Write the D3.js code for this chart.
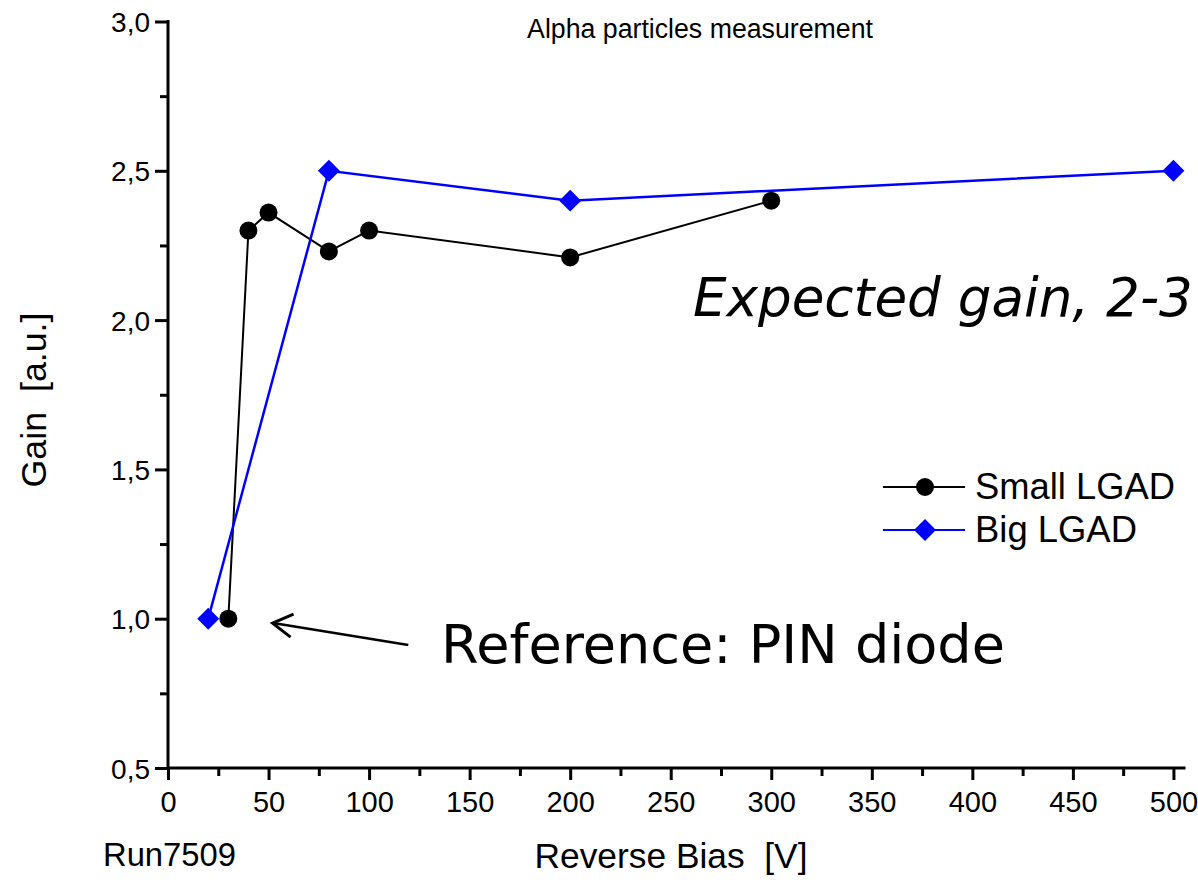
<!DOCTYPE html>
<html>
<head>
<meta charset="utf-8">
<script src="https://cdn.jsdelivr.net/npm/d3@7"></script>
<style>
	body { margin: 0; background: #fff; }
	text { font-family: "Liberation Sans", Arial, sans-serif; fill: #000; }
	.annot { font-family: "DejaVu Sans", Verdana, sans-serif; }
</style>
</head>
<body>
<script>
//data
var smallBias = [30, 40, 50, 80, 100, 200, 300],
	smallGain = [1.0, 2.3, 2.36, 2.23, 2.3, 2.21, 2.4];
var bigBias = [20, 80, 200, 500],
	bigGain = [1.0, 2.5, 2.4, 2.5];
var xTicks = [0, 50, 100, 150, 200, 250, 300, 350, 400, 450, 500],
	yTicks = [0.5, 1.0, 1.5, 2.0, 2.5, 3.0];

var W = 1198, H = 882;
var svg = d3.select("body").append("svg")
	.attr("width", W)
	.attr("height", H);

var xScale = d3.scaleLinear().domain([0, 506]).range([168, 1185.5]),
	yScale = d3.scaleLinear().domain([0.5, 3.0]).range([768, 21.5]);

// shrink/grow a text so it fills a given width
function fitText(t, width) {
	var fs = parseFloat(t.style("font-size"));
	var w = t.node().getComputedTextLength();
	t.style("font-size", (fs * width / w) + "px");
}

//////////////
// axes
//////////////
var fmt = function(d) { return d3.format(".1f")(d).replace(".", ","); };

var xAxis = d3.axisBottom(xScale).tickValues(xTicks).tickSize(12).tickPadding(11).tickFormat(d3.format("d")),
	yAxis = d3.axisLeft(yScale).tickValues(yTicks).tickSize(13).tickPadding(5).tickFormat(fmt);

var xMinor = d3.axisBottom(xScale).tickValues(d3.range(25, 500, 50)).tickSize(8).tickFormat(""),
	yMinor = d3.axisLeft(yScale).tickValues([0.75, 1.25, 1.75, 2.25, 2.75]).tickSize(8).tickFormat("");

var gx = svg.append("g").attr("transform", "translate(0,768)").call(xAxis);
svg.append("g").attr("transform", "translate(0,768)").call(xMinor);
var gy = svg.append("g").attr("transform", "translate(168,0)").call(yAxis);
svg.append("g").attr("transform", "translate(168,0)").call(yMinor);

svg.selectAll(".domain").remove();
svg.append("line").attr("x1", 168).attr("x2", 1185.5).attr("y1", 768).attr("y2", 768)
	.style("stroke", "#000").style("stroke-width", 3);
svg.append("line").attr("x1", 168).attr("x2", 168).attr("y1", 20).attr("y2", 769.5)
	.style("stroke", "#000").style("stroke-width", 3);

svg.selectAll(".tick line").style("stroke", "#000").style("stroke-width", 3);
gx.selectAll(".tick text").style("font-size", "29px").style("font-family", "Liberation Sans, Arial, sans-serif");
gy.selectAll(".tick text").style("font-size", "28px").style("font-family", "Liberation Sans, Arial, sans-serif")
	.attr("dy", "0.36em");

//////////////
// series
//////////////
var smallData = smallBias.map(function(d, i) { return {x: d, y: smallGain[i]}; }),
	bigData = bigBias.map(function(d, i) { return {x: d, y: bigGain[i]}; });

var line = d3.line()
	.x(function(d) { return xScale(d.x); })
	.y(function(d) { return yScale(d.y); });

svg.append("path").datum(smallData)
	.attr("d", line)
	.style("fill", "none").style("stroke", "#000").style("stroke-width", 2);
svg.append("path").datum(bigData)
	.attr("d", line)
	.style("fill", "none").style("stroke", "#0000ff").style("stroke-width", 2.5);

var diamond = d3.symbol().type(d3.symbolSquare).size(240);

svg.append("g").selectAll("circle")
	.data(smallData).enter()
	.append("circle")
	.attr("cx", function(d) { return xScale(d.x); })
	.attr("cy", function(d) { return yScale(d.y); })
	.attr("r", 9)
	.style("fill", "#000");

svg.append("g").selectAll("path")
	.data(bigData).enter()
	.append("path")
	.attr("d", diamond)
	.attr("transform", function(d) { return "translate(" + xScale(d.x) + "," + yScale(d.y) + ") rotate(45)"; })
	.style("fill", "#0000ff");

//////////////
// legend
//////////////
var legend = [
	{name: "Small LGAD", color: "#000", y: 487, sym: "circle", w: 200},
	{name: "Big LGAD", color: "#0000ff", y: 530, sym: "diamond", w: 162}
];
legend.forEach(function(l) {
	svg.append("line").attr("x1", 883).attr("x2", 965).attr("y1", l.y).attr("y2", l.y)
		.style("stroke", l.color).style("stroke-width", 2);
	if (l.sym == "circle") {
		svg.append("circle").attr("cx", 925).attr("cy", l.y).attr("r", 9).style("fill", l.color);
	} else {
		svg.append("path").attr("d", diamond)
			.attr("transform", "translate(925," + l.y + ") rotate(45)")
			.style("fill", l.color);
	}
	var t = svg.append("text").attr("x", 975).attr("y", l.y + 12)
		.style("font-size", "34px")
		.text(l.name);
	fitText(t, l.w);
});

//////////////
// labels
//////////////
var title = svg.append("text")
	.attr("x", 700).attr("y", 38)
	.style("text-anchor", "middle").style("font-size", "22px")
	.text("Alpha particles measurement");
fitText(title, 346);

var xl = svg.append("text")
	.attr("x", 671).attr("y", 868)
	.style("text-anchor", "middle").style("font-size", "34px")
	.style("white-space", "pre")
	.text("Reverse Bias  [V]");
fitText(xl, 273);

var yl = svg.append("text")
	.attr("transform", "translate(46,400) rotate(-90)")
	.style("text-anchor", "middle").style("font-size", "34px")
	.style("white-space", "pre")
	.text("Gain  [a.u.]");
fitText(yl, 175);

var run = svg.append("text")
	.attr("x", 103).attr("y", 866)
	.style("font-size", "33px")
	.text("Run7509");
fitText(run, 133);

var exp = svg.append("text")
	.attr("class", "annot")
	.attr("x", 693).attr("y", 316)
	.style("font-size", "48px").style("font-style", "italic")
	.text("Expected gain, 2-3");
fitText(exp, 500);

var ref = svg.append("text")
	.attr("class", "annot")
	.attr("x", 441).attr("y", 663)
	.style("font-size", "48px")
	.text("Reference: PIN diode");
fitText(ref, 564);

//arrow pointing at the PIN diode point
var tip = [xScale(52), yScale(0.985)],
	tail = [xScale(119.5), yScale(0.912)];
svg.append("line")
	.attr("x1", tail[0]).attr("y1", tail[1]).attr("x2", tip[0] + 2).attr("y2", tip[1])
	.style("stroke", "#000").style("stroke-width", 2.5);
svg.append("path")
	.attr("d", "M" + (tip[0] + 21) + "," + (tip[1] - 9) + "L" + tip[0] + "," + tip[1] + "L" + (tip[0] + 18) + "," + (tip[1] + 14))
	.style("fill", "none").style("stroke", "#000").style("stroke-width", 3);
</script>
</body>
</html>
